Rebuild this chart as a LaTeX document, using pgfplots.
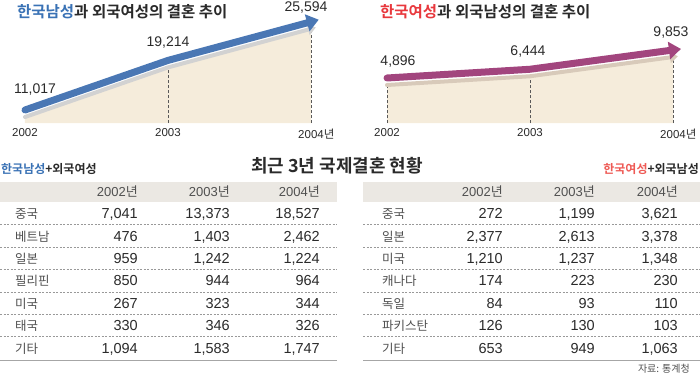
\documentclass[border=0pt]{standalone}
\usepackage{pgfplots}
\pgfplotsset{compat=1.18}
\usepackage{fontspec}
\setmainfont{Liberation Sans}
\newfontfamily\kr{Noto Sans CJK KR}[BoldFont={Noto Sans CJK KR Bold}]
\usetikzlibrary{arrows.meta}
\definecolor{arrowblue}{HTML}{4A77B4}
\definecolor{arrowmag}{HTML}{A2457E}
\definecolor{beige}{HTML}{F5ECDB}
\definecolor{shadowgray}{HTML}{D2D2D2}
\definecolor{shadowtan}{HTML}{D8CABA}
\definecolor{titleblue}{HTML}{3A72B5}
\definecolor{titlered}{HTML}{E8383D}
\definecolor{labelred}{HTML}{EE5A55}
\definecolor{txt}{HTML}{2A2A2A}
\definecolor{soft}{HTML}{505050}
\definecolor{band}{HTML}{EBE8E3}
\begin{document}
\begin{tikzpicture}[x=1pt,y=1pt]
\path[use as bounding box] (0,0) rectangle (700,-378);

% ---------- chart titles ----------
\node[anchor=west,inner sep=0pt,font=\kr\bfseries\fontsize{15.5}{16}\selectfont] at (17,-12)
  {\textcolor{titleblue}{한국남성}\textcolor{txt}{과 외국여성의 결혼 추이}};
\node[anchor=west,inner sep=0pt,font=\kr\bfseries\fontsize{15.5}{16}\selectfont] at (380,-12)
  {\textcolor{titlered}{한국여성}\textcolor{txt}{과 외국남성의 결혼 추이}};

% ---------- left chart ----------
\begin{axis}[at={(25pt,-123pt)}, anchor=south west, scale only axis,
  width=286pt, height=123pt, xmin=2002, xmax=2004, ymin=10025, ymax=30355,
  clip=false, axis y line=none, axis x line*=bottom, x axis line style={draw=none},
  xtick={2002,2003,2004}, xticklabels={2002,2003,2004\rlap{\kr 년}},
  major tick length=0pt,
  xticklabel style={font=\fontsize{11.5}{12}\selectfont, text=txt, yshift=-2pt}]
\addplot[fill=beige, draw=none] coordinates {(2002,10025) (2002,11017) (2003,19214) (2004,25594) (2004,10025)};
\draw[densely dashed, gray!70!black, line width=0.5pt] (axis cs:2003,10025) -- (axis cs:2003,19214);
\draw[densely dashed, gray!70!black, line width=0.5pt] (axis cs:2004,10025) -- (axis cs:2004,25594);
\addplot[draw=shadowgray, line width=4pt, line cap=round, shorten >=-5pt,
  -{Triangle[length=8pt,width=11pt]}] coordinates {(2002,11017) (2003,19214) (2004,25594)};
\addplot[draw=arrowblue, line width=7pt, line cap=round, yshift=7pt, shorten >=-8pt,
  -{Triangle[length=12pt,width=17pt]}] coordinates {(2002,11017) (2003,19214) (2004,25594)};
\end{axis}

% ---------- right chart ----------
\begin{axis}[at={(387pt,-123pt)}, anchor=south west, scale only axis,
  width=286pt, height=123pt, xmin=2002, xmax=2004, ymin=-1830, ymax=19940,
  clip=false, axis y line=none, axis x line*=bottom, x axis line style={draw=none},
  xtick={2002,2003,2004}, xticklabels={2002,2003,2004\rlap{\kr 년}},
  major tick length=0pt,
  xticklabel style={font=\fontsize{11.5}{12}\selectfont, text=txt, yshift=-2pt}]
\addplot[fill=beige, draw=none] coordinates {(2002,-1830) (2002,4896) (2003,6444) (2004,9853) (2004,-1830)};
\draw[densely dashed, gray!70!black, line width=0.5pt] (axis cs:2002,-1830) -- (axis cs:2002,4896);
\draw[densely dashed, gray!70!black, line width=0.5pt] (axis cs:2003,-1830) -- (axis cs:2003,6444);
\draw[densely dashed, gray!70!black, line width=0.5pt] (axis cs:2004,-1830) -- (axis cs:2004,9853);
\addplot[draw=shadowtan, line width=4pt, line cap=round, shorten >=-5pt,
  -{Triangle[length=8pt,width=11pt]}] coordinates {(2002,4896) (2003,6444) (2004,9853)};
\addplot[draw=arrowmag, line width=7pt, line cap=round, yshift=7pt, shorten >=-8pt,
  -{Triangle[length=12pt,width=17pt]}] coordinates {(2002,4896) (2003,6444) (2004,9853)};
\end{axis}

% value labels
\begin{scope}[every node/.style={font=\fontsize{14}{14}\selectfont, text=txt, inner sep=0pt}]
\node at (35,-90) {11,017};
\node at (168,-43) {19,214};
\node at (306,-8) {25,594};
\node at (398,-62) {4,896};
\node at (528,-52) {6,444};
\node at (671,-33) {9,853};
\end{scope}

% ---------- table titles ----------
\node[inner sep=0pt,font=\kr\bfseries\fontsize{18}{18}\selectfont,text=txt] at (337,-166) {최근 3년 국제결혼 현황};
\node[anchor=west,inner sep=0pt,font=\kr\bfseries\fontsize{12}{12}\selectfont] at (1,-169)
  {\textcolor{titleblue}{한국남성}\textcolor{txt}{+외국여성}};
\node[anchor=east,inner sep=0pt,font=\kr\bfseries\fontsize{12}{12}\selectfont] at (699,-169)
  {\textcolor{labelred}{한국여성}\textcolor{txt}{+외국남성}};

% ---------- left table ----------
\fill[band] (0,-182) rectangle (337,-202);
\fill[band] (363,-182) rectangle (700,-202);
\foreach \x in {138,230,320} {}
\begin{scope}[every node/.style={inner sep=0pt, anchor=base east, font=\fontsize{13}{13}\selectfont, text=soft}]
\node at (138,-196.6) {2002{\kr 년}};
\node at (230,-196.6) {2003{\kr 년}};
\node at (320,-196.6) {2004{\kr 년}};
\node at (503,-196.6) {2002{\kr 년}};
\node at (595,-196.6) {2003{\kr 년}};
\node at (678,-196.6) {2004{\kr 년}};
\end{scope}

\foreach \n/\a/\b/\c [count=\i from 0] in {중국/{7,041}/{13,373}/{18,527}, 베트남/476/{1,403}/{2,462}, 일본/959/{1,242}/{1,224}, 필리핀/850/944/964, 미국/267/323/344, 태국/330/346/326, 기타/{1,094}/{1,583}/{1,747}} {
  \pgfmathsetmacro\yb{-(213.5+22.4*\i+5.2)}
  \node[anchor=base west,inner sep=0pt,font=\kr\fontsize{12.5}{12.5}\selectfont,text=soft] at (15,\yb) {\n};
  \node[anchor=base east,inner sep=0pt,font=\fontsize{14.5}{14.5}\selectfont,text=txt] at (138,\yb) {\a};
  \node[anchor=base east,inner sep=0pt,font=\fontsize{14.5}{14.5}\selectfont,text=txt] at (230,\yb) {\b};
  \node[anchor=base east,inner sep=0pt,font=\fontsize{14.5}{14.5}\selectfont,text=txt] at (320,\yb) {\c};
}
\foreach \n/\a/\b/\c [count=\i from 0] in {중국/272/{1,199}/{3,621}, 일본/{2,377}/{2,613}/{3,378}, 미국/{1,210}/{1,237}/{1,348}, 캐나다/174/223/230, 독일/84/93/110, 파키스탄/126/130/103, 기타/653/949/{1,063}} {
  \pgfmathsetmacro\yb{-(213.5+22.4*\i+5.2)}
  \node[anchor=base west,inner sep=0pt,font=\kr\fontsize{12.5}{12.5}\selectfont,text=soft] at (382,\yb) {\n};
  \node[anchor=base east,inner sep=0pt,font=\fontsize{14.5}{14.5}\selectfont,text=txt] at (503,\yb) {\a};
  \node[anchor=base east,inner sep=0pt,font=\fontsize{14.5}{14.5}\selectfont,text=txt] at (595,\yb) {\b};
  \node[anchor=base east,inner sep=0pt,font=\fontsize{14.5}{14.5}\selectfont,text=txt] at (678,\yb) {\c};
}
\foreach \i in {0,...,5} {
  \pgfmathsetmacro\yl{-(224.7+22.4*\i)}
  \draw[gray!80, line width=0.5pt, dash pattern=on 2pt off 1.5pt] (0,\yl) -- (337,\yl);
  \draw[gray!80, line width=0.5pt, dash pattern=on 2pt off 1.5pt] (363,\yl) -- (700,\yl);
}
\draw[gray!70, line width=1pt] (0,-360) -- (337,-360);
\draw[gray!70, line width=1pt] (363,-360) -- (700,-360);

\node[anchor=east,inner sep=0pt,font=\kr\fontsize{10}{10}\selectfont,text=soft] at (690,-368.5) {자료: 통계청};
\end{tikzpicture}
\end{document}
